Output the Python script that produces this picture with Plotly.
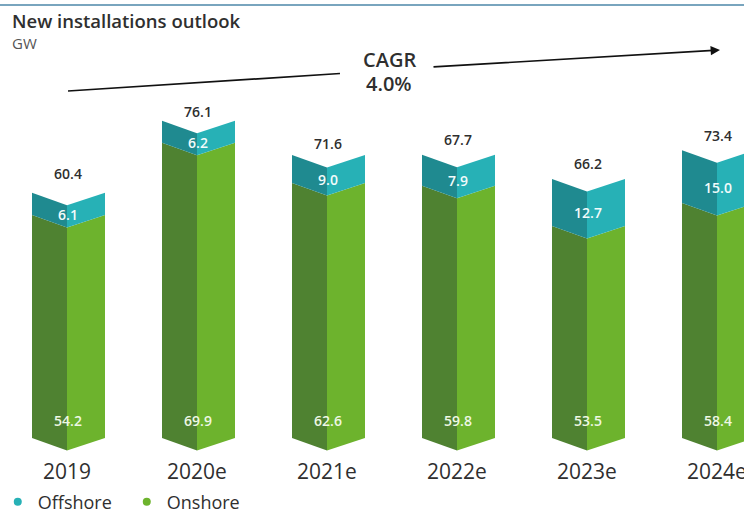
import plotly.graph_objects as go

# Data (GW) as printed in the chart
years = ["2019", "2020e", "2021e", "2022e", "2023e", "2024e"]
onshore = [54.2, 69.9, 62.6, 59.8, 53.5, 58.4]
offshore = [6.1, 6.2, 9.0, 7.9, 12.7, 15.0]
totals = [60.4, 76.1, 71.6, 67.7, 66.2, 73.4]
# Segment heights as actually drawn in the (not quite proportional) picture, read in GW
onshore_drawn = [54.4, 72.0, 62.2, 61.5, 51.7, 57.3]
offshore_drawn = [5.4, 5.4, 6.8, 7.6, 11.5, 12.9]

# Scale set-up: pixels of the 744x511 page
W, H = 744, 511
PX_PER_CAT = 130.0
PX_PER_GW = 4.1
X0_PX, Y0_PX, AXIS_BOTTOM_PX = 67, 438, 456
xr = [-X0_PX / PX_PER_CAT, (W - X0_PX) / PX_PER_CAT]
yr = [-(AXIS_BOTTOM_PX - Y0_PX) / PX_PER_GW, Y0_PX / PX_PER_GW]
dxl, dxr = 35 / PX_PER_CAT, 38 / PX_PER_CAT
drop = 12.5 / PX_PER_GW
total_gap = [17.5, 7, 10, 13, 13, 13]

DARK_G, LIGHT_G, DARK_T, LIGHT_T = "#4f8231", "#6db32d", "#1f8a90", "#27b1b6"
FONT = "'Open Sans', Lato, sans-serif"
INK = "#2f2f2f"

fig = go.Figure()


def face(x0, x1, low0, low1, high0, high1, color):
    fig.add_trace(go.Scatter(
        x=[x0, x1, x1, x0, x0], y=[low0, low1, high1, high0, low0],
        mode="lines", fill="toself", fillcolor=color,
        line=dict(width=0), hoverinfo="skip", showlegend=False))


for i in range(len(years)):
    a, b = onshore_drawn[i], onshore_drawn[i] + offshore_drawn[i]
    face(i - dxl, i, 0, -drop, a, a - drop, DARK_G)
    face(i, i + dxr, -drop, 0, a - drop, a, LIGHT_G)
    face(i - dxl, i, a, a - drop, b, b - drop, DARK_T)
    face(i, i + dxr, a - drop, a, b - drop, b, LIGHT_T)

tops = [o + f for o, f in zip(onshore_drawn, offshore_drawn)]
label_x = [i + 1 / PX_PER_CAT for i in range(len(years))]

fig.add_trace(go.Scatter(
    x=label_x, y=[o + f / 2 - drop for o, f in zip(onshore_drawn, offshore_drawn)],
    mode="text", text=[f"{v:.1f}" for v in offshore],
    textfont=dict(family=FONT, size=14, color="#f2fbfb", weight=600),
    hoverinfo="skip", showlegend=False))
fig.add_trace(go.Scatter(
    x=label_x, y=[16 / PX_PER_GW] * len(years),
    mode="text", text=[f"{v:.1f}" for v in onshore],
    textfont=dict(family=FONT, size=14, color="#eef7e4", weight=600),
    hoverinfo="skip", showlegend=False))
fig.add_trace(go.Scatter(
    x=label_x, y=[t + g / PX_PER_GW for t, g in zip(tops, total_gap)],
    mode="text", text=[f"{v:.1f}" for v in totals],
    textfont=dict(family=FONT, size=14, color=INK, weight=600),
    hoverinfo="skip", showlegend=False))

# Legend entries
for name, c in (("Offshore", "#27b1b6"), ("Onshore", "#6db32d")):
    fig.add_trace(go.Scatter(x=[None], y=[None], mode="markers", name=name,
                             marker=dict(color=c, size=8)))

plot_h = AXIS_BOTTOM_PX


def ppx(x, y):
    return x / W, 1 - y / plot_h


shapes = [dict(type="line", xref="paper", yref="paper", x0=0, x1=1,
               y0=1 - 5 / plot_h, y1=1 - 5 / plot_h, line=dict(color="#4c87a8", width=1.5))]
x0, y0 = ppx(68, 91)
x1, y1 = ppx(340, 73.5)
shapes.append(dict(type="line", xref="paper", yref="paper", x0=x0, y0=y0, x1=x1, y1=y1,
                   line=dict(color="#111111", width=1.7)))

annotations = [
    dict(text="New installations outlook", x=10 / W, y=1 - 21 / plot_h, xanchor="left",
         font=dict(size=18.5, color=INK, weight=600)),
    dict(text="GW", x=10 / W, y=1 - 43 / plot_h, xanchor="left",
         font=dict(size=15, color="#555555")),
    dict(text="CAGR", x=389 / W, y=1 - 60 / plot_h, xanchor="center",
         font=dict(size=20, color=INK, weight=600)),
    dict(text="4.0%", x=389 / W, y=1 - 83 / plot_h, xanchor="center",
         font=dict(size=20, color=INK, weight=600)),
]
for an in annotations:
    an.update(xref="paper", yref="paper", yanchor="middle", showarrow=False)
    an["font"]["family"] = FONT
x2, y2 = ppx(720, 50)
annotations.append(dict(xref="paper", yref="paper", axref="pixel", ayref="pixel",
                        x=x2, y=y2, ax=-288, ay=17, text="", showarrow=True,
                        arrowhead=2, arrowsize=1.1, arrowwidth=1.7, arrowcolor="#111111"))

fig.update_layout(
    width=W, height=H, autosize=False,
    margin=dict(l=0, r=0, t=0, b=H - AXIS_BOTTOM_PX, autoexpand=False),
    paper_bgcolor="white", plot_bgcolor="white",
    font=dict(family=FONT, color=INK),
    xaxis=dict(range=xr, tickmode="array", tickvals=list(range(len(years))), ticktext=years,
               showgrid=False, zeroline=False, showline=False, ticks="",
               tickfont=dict(size=21, color=INK, family=FONT), fixedrange=True,
               ticklabelstandoff=1, ticklabeloverflow="allow"),
    yaxis=dict(range=yr, visible=False, showgrid=False, zeroline=False, fixedrange=True),
    legend=dict(orientation="h", x=-0.003, y=-0.101, xanchor="left", yanchor="middle",
                font=dict(size=18, color=INK, family=FONT),
                itemwidth=30, entrywidth=84, entrywidthmode="pixels",
                bgcolor="rgba(0,0,0,0)"),
    shapes=shapes, annotations=annotations,
)

fig.write_html("out.html", config={"displayModeBar": False, "responsive": False},
               post_script="document.body.style.margin='0';")
